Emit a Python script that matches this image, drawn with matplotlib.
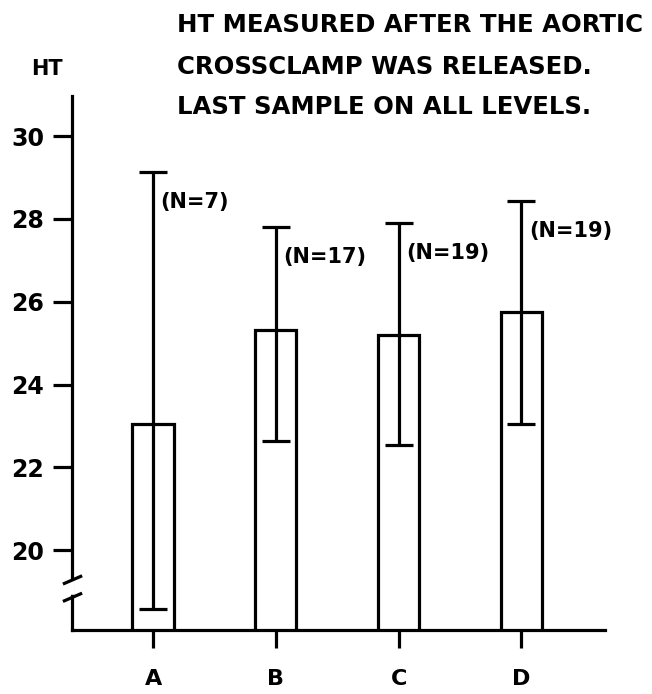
import matplotlib
matplotlib.use("Agg")
import matplotlib.pyplot as plt
import numpy as np

plt.rcParams["font.family"] = ["DejaVu Sans"]
plt.rcParams["font.weight"] = "bold"

# data
groups = ["A", "B", "C", "D"]
ht_mean = [23.04, 25.31, 25.19, 25.75]
err_low = [4.47, 2.68, 2.65, 2.71]
err_high = [6.09, 2.49, 2.71, 2.68]
n_obs = [7, 17, 19, 19]
y_ticks = [20, 22, 24, 26, 28, 30]
title_lines = [
    "HT MEASURED AFTER THE AORTIC",
    "CROSSCLAMP WAS RELEASED.",
    "LAST SAMPLE ON ALL LEVELS.",
]

W, H = 652, 694
fig = plt.figure(figsize=(W / 100, H / 100), dpi=100)
ax = fig.add_axes([72 / W, (H - 630) / H, (605 - 72) / W, (630 - 96) / H])

x = np.arange(len(groups))
ax.bar(x, ht_mean, width=0.335, color="white", edgecolor="black", linewidth=2.3, zorder=2)
ax.errorbar(x, ht_mean, yerr=[err_low, err_high], fmt="none", ecolor="black",
            elinewidth=2.3, capsize=10, capthick=2.3, zorder=3)

for xi, m, hi, n in zip(x, ht_mean, err_high, n_obs):
    ax.text(xi + 0.06, m + hi - 0.72, f"(N={n})", fontsize=15, fontweight="bold",
            ha="left", va="center")

ax.set_xlim(-0.66, 3.68)
ax.set_ylim(18.07, 30.97)
ax.set_yticks(y_ticks)
ax.set_xticks(x)
ax.set_xticklabels(groups)

for side in ("top", "right"):
    ax.spines[side].set_visible(False)
for side in ("left", "bottom"):
    ax.spines[side].set_linewidth(2.3)

ax.tick_params(axis="y", direction="out", length=14, width=2.3, pad=6, labelsize=17)
ax.tick_params(axis="x", direction="out", length=13, width=2.3, pad=15, labelsize=16)

# axis break on the y axis
tr = ax.get_yaxis_transform()
ax.plot([0, 0], [19.0, 19.2], color="white", lw=4, transform=tr, clip_on=False, zorder=5)
for yb in (19.28, 18.86):
    ax.plot([-0.017, 0.019], [yb - 0.1, yb + 0.1], color="black", lw=2.3,
            transform=tr, clip_on=False, zorder=6, solid_capstyle="butt")

fig.text(47 / W, 1 - 75 / H, "HT", fontsize=15, fontweight="bold", ha="center", va="baseline")
for line, yb in zip(title_lines, [32.5, 74.5, 114]):
    fig.text(177 / W, 1 - yb / H, line, fontsize=17.6, fontweight="bold", ha="left", va="baseline")

fig.savefig("out.png", dpi=100)
